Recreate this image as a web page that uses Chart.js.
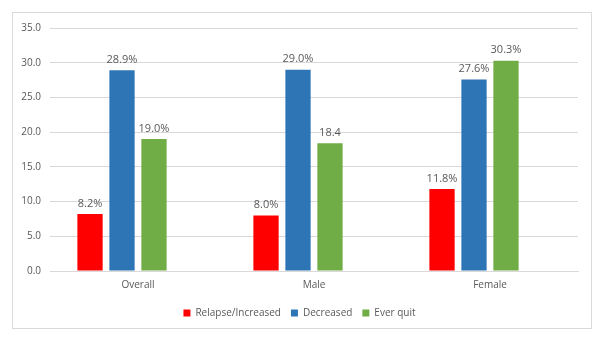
<!DOCTYPE html>
<html>
<head>
<meta charset="utf-8">
<script src="https://cdn.jsdelivr.net/npm/chart.js@4/dist/chart.umd.min.js"></script>
<style>
  body { margin: 0; background: #fff; }
  #box { position: absolute; left: 12px; top: 12px; width: 578px; height: 315px; border: 1px solid #d9d9d9; }
</style>
</head>
<body>
<div id="box"><canvas id="chart"></canvas></div>
<script>
// data
const categories = ["Overall", "Male", "Female"];
const relapse = [8.2, 8.0, 11.8];
const decreased = [28.9, 29.0, 27.6];
const everQuit = [19.0, 18.4, 30.3];
const emptySeries = [null, null, null]; // empty 4th column in the original sheet
const relapseLabels = ["8.2%", "8.0%", "11.8%"];
const decreasedLabels = ["28.9%", "29.0%", "27.6%"];
const everQuitLabels = ["19.0%", "18.4", "30.3%"];

Chart.defaults.font.family = "'Open Sans', sans-serif";
Chart.defaults.font.size = 10;
Chart.defaults.color = "#595959";

// draw value labels above bars
const barLabels = {
    id: "barLabels",
    afterDatasetsDraw(chart) {
        const ctx = chart.ctx;
        ctx.save();
        ctx.font = "11px 'Open Sans', sans-serif";
        ctx.fillStyle = "#595959";
        ctx.textAlign = "center";
        ctx.textBaseline = "bottom";
        chart.data.datasets.forEach((ds, i) => {
            if (!ds.valueLabels) return;
            chart.getDatasetMeta(i).data.forEach((bar, j) => {
                ctx.fillText(ds.valueLabels[j], bar.x, bar.y - 5);
            });
        });
        ctx.restore();
    }
};

new Chart(document.getElementById("chart"), {
    type: "bar",
    data: {
        labels: categories,
        datasets: [
            { label: "Relapse/Increased", data: relapse, valueLabels: relapseLabels, backgroundColor: "#ff0000" },
            { label: "Decreased", data: decreased, valueLabels: decreasedLabels, backgroundColor: "#2e75b6" },
            { label: "Ever quit", data: everQuit, valueLabels: everQuitLabels, backgroundColor: "#70ad47" },
            { label: "", data: emptySeries, backgroundColor: "transparent" }
        ]
    },
    options: {
        responsive: true,
        maintainAspectRatio: false,
        animation: false,
        layout: { padding: { left: 8, right: 13, top: 0, bottom: 0 } },
        datasets: { bar: { categoryPercentage: 0.727, barPercentage: 0.79 } },
        plugins: {
            legend: {
                position: "bottom",
                labels: { boxWidth: 7, boxHeight: 7, padding: 10, filter: item => item.text !== "" }
            },
            tooltip: { enabled: false }
        },
        scales: {
            x: {
                grid: { display: false },
                border: { color: "#d9d9d9" },
                ticks: { padding: 0 },
                afterFit: axis => { axis.height = 27; }
            },
            y: {
                min: 0,
                max: 35,
                ticks: { stepSize: 5, padding: 9, callback: v => v.toFixed(1) },
                grid: { color: "#d9d9d9", drawTicks: false },
                border: { display: false },
                afterFit: axis => { axis.width = 29; }
            }
        }
    },
    plugins: [barLabels]
});
</script>
</body>
</html>
